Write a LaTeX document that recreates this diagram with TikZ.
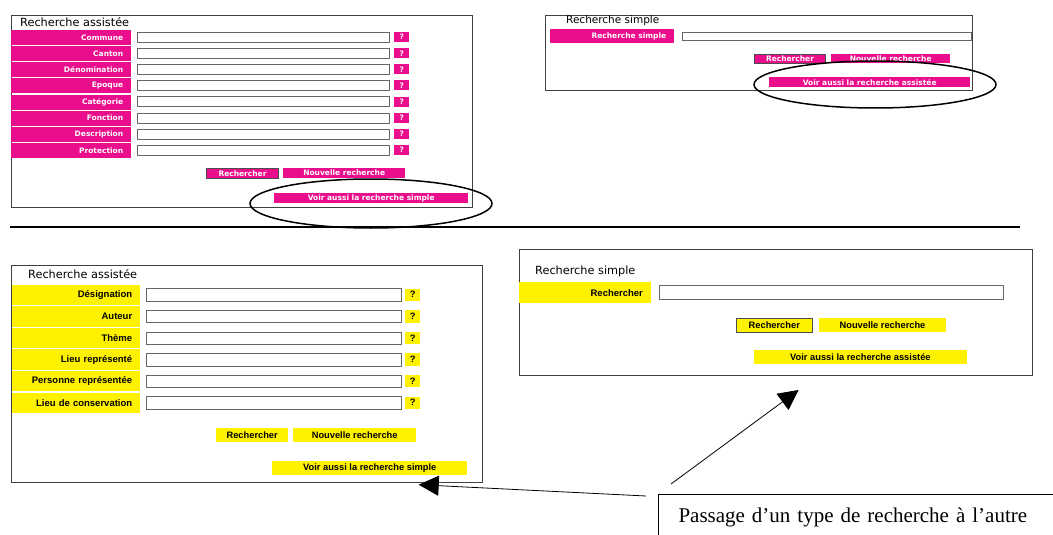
\documentclass[tikz,border=0pt]{standalone}
\usepackage{fontspec}
\setmainfont{Liberation Serif}
\newfontfamily\uifont{DejaVu Sans}
\newfontfamily\winfont{Liberation Sans}
\usepackage{tikz}
\usetikzlibrary{positioning, arrows.meta}
\definecolor{fuchsia}{RGB}{234,14,140}
\definecolor{jaune}{RGB}{255,242,0}

\begin{document}
\begin{tikzpicture}[x=1pt, y=-1pt,
        panel/.style={draw=black!75, line width=1pt, anchor=north west, inner sep=0pt},
        titre/.style={anchor=west, inner sep=0pt, font=\uifont\fontsize{11.3}{13}\selectfont},
        mlab/.style={fill=fuchsia, text=white, font=\uifont\bfseries\fontsize{7.5}{9}\selectfont, align=right, inner xsep=8pt, inner ysep=0pt, anchor=north west},
        ylab/.style={fill=jaune, font=\winfont\bfseries\fontsize{9.5}{11}\selectfont, align=right, inner xsep=8pt, inner ysep=0pt, anchor=north west},
        champ/.style={draw=black!60, fill=white, line width=0.9pt, inner sep=0pt, anchor=north west},
        mbtn/.style={fill=fuchsia, text=white, font=\uifont\bfseries\fontsize{7.5}{9}\selectfont, inner sep=0pt, anchor=north west},
        ybtn/.style={fill=jaune, font=\winfont\bfseries\fontsize{9.3}{11}\selectfont, inner sep=0pt, anchor=north west},
        cadre/.style={draw=black!70, line width=1pt},
        lien/.style={-{Triangle[length=20pt, width=20pt]}, line width=0.8pt},
        bulle/.style={draw, line width=1pt, anchor=north west, inner xsep=20pt, inner ysep=13pt, text width=400pt, align=left, font=\fontsize{21}{25}\selectfont}]
    \useasboundingbox (0,0) rectangle (1053,535);
    \clip (0,0) rectangle (1053,535);

    \node[panel, minimum width=461pt, minimum height=192.3pt] (TA) at (10.7,15) {};
    \node[titre] (TA-t) at (20,22) {Recherche assistée};
    \foreach \lab [count=\i from 0] in {Commune, Canton, Dénomination, Epoque, Catégorie, Fonction, Description, Protection} {
        \node[mlab, text width=104pt, minimum height=15pt] (TA-l\i) at (11,{30+16.1*\i}) {\lab};
        \node[champ, minimum width=252pt, minimum height=10pt] (TA-c\i) at (137,{32+16.1*\i}) {};
        \node[mbtn, minimum width=15pt, minimum height=10pt] (TA-q\i) at (394,{32+16.1*\i}) {?};
    }
    \node[mbtn, cadre, minimum width=72pt, minimum height=10pt] (TA-r) at (206,168) {Rechercher};
    \node[mbtn, minimum width=122pt, minimum height=10pt] (TA-n) at (283,168) {Nouvelle recherche};
    \node[mbtn, minimum width=194pt, minimum height=10pt] (TA-v) at (274,193) {Voir aussi la recherche simple};
    \draw[line width=1.5pt] (371,203.5) ellipse (121pt and 24.5pt);

    \node[panel, minimum width=426.7pt, minimum height=75pt] (TS) at (545,15) {};
    \node[titre, font=\uifont\fontsize{10.5}{12}\selectfont] (TS-t) at (566,21) {Recherche simple};
    \node[mlab, text width=108pt, minimum height=14pt] (TS-l) at (550,29) {Recherche simple};
    \node[champ, minimum width=289pt, minimum height=8pt] (TS-c) at (682,32) {};
    \node[mbtn, cadre, minimum width=71pt, minimum height=9pt] (TS-r) at (754,54) {Rechercher};
    \node[mbtn, minimum width=119pt, minimum height=9pt] (TS-n) at (831,54) {Nouvelle recherche};
    \node[mbtn, minimum width=201pt, minimum height=10pt] (TS-v) at (769,77) {Voir aussi la recherche assistée};
    \draw[line width=1.5pt] (875,84.5) ellipse (121pt and 23.5pt);

    \draw[line width=2pt] (10,226.7) -- (1020,226.7);

    \node[panel, minimum width=470.7pt, minimum height=216.7pt] (BA) at (11,265) {};
    \node[titre] (BA-t) at (28,274) {Recherche assistée};
    \foreach \lab [count=\i from 0] in {Désignation, Auteur, Thème, Lieu représenté, Personne représentée, Lieu de conservation} {
        \node[ylab, text width=112pt, minimum height=20.5pt] (BA-l\i) at (12,{284.3+21.6*\i}) {\lab};
        \node[champ, minimum width=255pt, minimum height=12.5pt] (BA-c\i) at (146,{288.3+21.6*\i}) {};
        \node[ybtn, minimum width=15pt, minimum height=12.5pt] (BA-q\i) at (405,{288.3+21.6*\i}) {?};
    }
    \node[ybtn, minimum width=72pt, minimum height=14pt] (BA-r) at (216,428) {Rechercher};
    \node[ybtn, minimum width=123pt, minimum height=14pt] (BA-n) at (293,428) {Nouvelle recherche};
    \node[ybtn, minimum width=195pt, minimum height=14pt] (BA-v) at (272,461) {Voir aussi la recherche simple};

    \node[panel, minimum width=512.8pt, minimum height=126pt] (BS) at (518.7,249) {};
    \node[titre] (BS-t) at (535,271) {Recherche simple};
    \node[ylab, text width=116pt, minimum height=21pt] (BS-l) at (518.7,282) {Rechercher};
    \node[champ, minimum width=344pt, minimum height=14pt] (BS-c) at (659,285) {};
    \node[ybtn, cadre, minimum width=75.6pt, minimum height=14pt] (BS-r) at (736,318) {Rechercher};
    \node[ybtn, minimum width=126.6pt, minimum height=14pt] (BS-n) at (819,318) {Nouvelle recherche};
    \node[ybtn, minimum width=213.6pt, minimum height=14pt] (BS-v) at (753.4,350) {Voir aussi la recherche assistée};

    \node[bulle] (passage) at (658,494) {Passage d’un type de recherche à l’autre};
    \draw[lien] ([shift={(13,-10)}] passage.north west) -- ([shift={(23,14)}] BS.south);
    \draw[lien] ([shift={(-12,2)}] passage.north west) -- ([shift={(-64,2)}] BA.south east);
\end{tikzpicture}
\end{document}
